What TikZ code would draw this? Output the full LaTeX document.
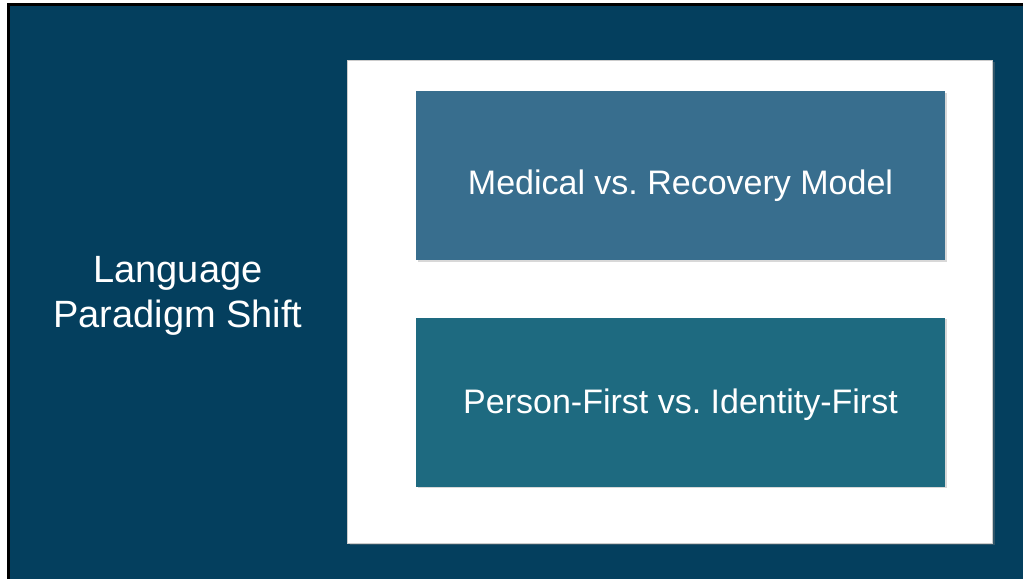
\documentclass[tikz,border=0pt]{standalone}
\usepackage{fontspec}
\setmainfont{Liberation Sans}
\usetikzlibrary{shadows}
\frenchspacing

\definecolor{slidebg}{HTML}{043F5E}
\definecolor{topbox}{HTML}{386E8E}
\definecolor{lowbox}{HTML}{1E6A80}

\tikzset{
  panel/.style={fill=white, draw=gray!40, line width=0.6pt,
    drop shadow={shadow xshift=3pt, shadow yshift=-2pt, opacity=0.35}},
  topicbox/.style={minimum width=529pt, minimum height=169pt, inner sep=0pt,
    drop shadow={shadow xshift=1.5pt, shadow yshift=-1.5pt, opacity=0.3}},
  topictext/.style={anchor=base, inner sep=0pt, text=white,
    font=\fontsize{34}{40}\selectfont},
}

\begin{document}
\begin{tikzpicture}[x=1pt, y=-1pt]
\useasboundingbox (0,0) rectangle (1023,579);
\fill[white] (0,0) rectangle (1023,579);
\fill[black] (7,3) rectangle (1023,579);
\fill[slidebg] (10,6) rectangle (1023,579);

\node[panel, minimum width=645pt, minimum height=483pt, inner sep=0pt] (panel) at (669.5,301.5) {};

% the two topics
\node[topicbox, fill=topbox] (medical) at (680.5,175.5) {};
\node[topicbox, fill=lowbox] (person) at (680.5,402) {};
\node[topictext] (medicaltext) at (680.5,194) {Medical vs. Recovery Model};
\node[topictext] (persontext) at (680.5,413) {Person-First vs. Identity-First};

\node[anchor=base, inner sep=0pt, text=white, align=center,
  font=\fontsize{38}{45}\selectfont] (title) at (178,327)
  {Language\\Paradigm Shift};
\end{tikzpicture}
\end{document}
